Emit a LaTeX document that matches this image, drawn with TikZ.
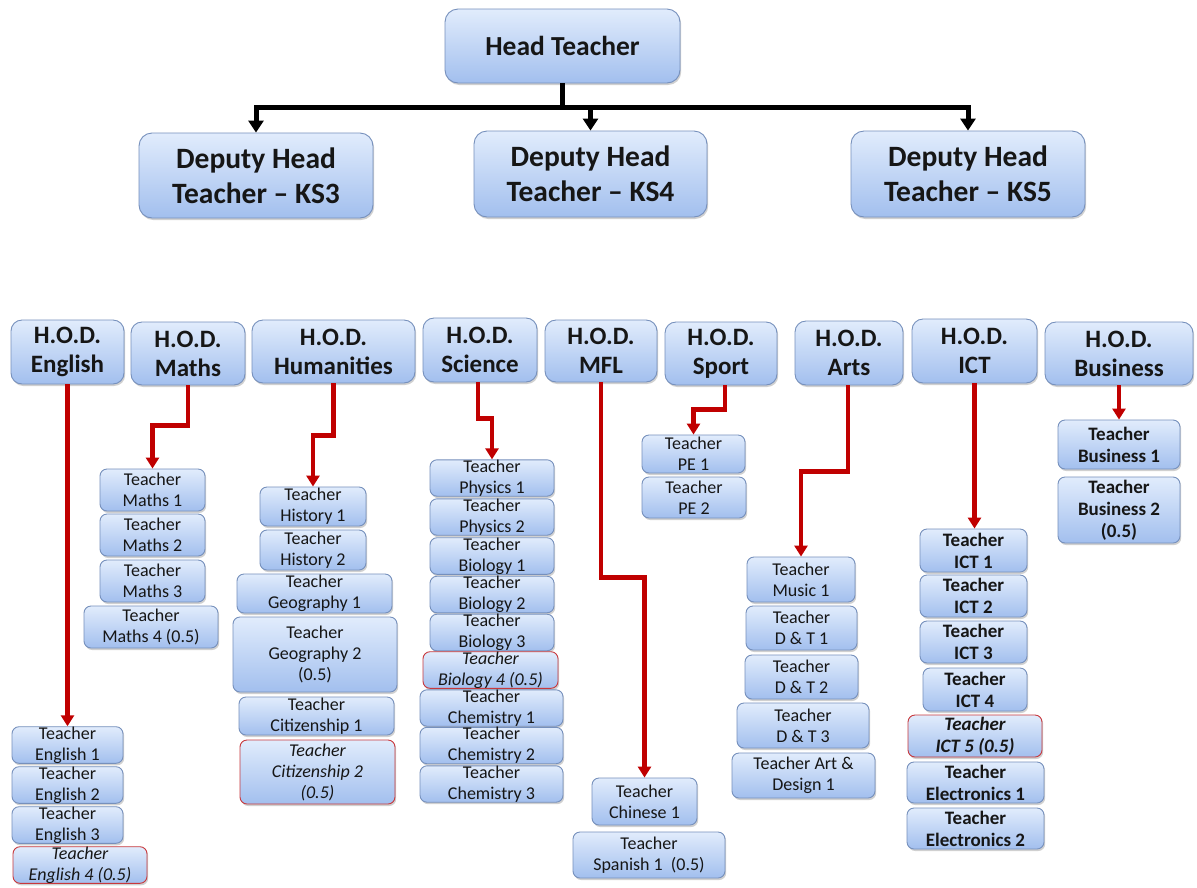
\documentclass[tikz,border=0pt]{standalone}
\usepackage{fontspec}
\setmainfont{Carlito}
\usetikzlibrary{arrows.meta,shadows}

\definecolor{boxtop}{RGB}{225,236,252}
\definecolor{boxbot}{RGB}{162,191,238}
\definecolor{boxline}{RGB}{118,144,188}
\definecolor{partline}{RGB}{200,56,60}
\definecolor{linkred}{RGB}{192,0,0}
\definecolor{inkc}{RGB}{22,22,22}

\tikzset{
  card/.style={draw=boxline, line width=0.9pt, top color=boxtop, bottom color=boxbot,
    rounded corners=7pt, inner sep=0pt, align=center, text=inkc,
    drop shadow={shadow xshift=1.2pt, shadow yshift=-2pt, opacity=0.3, fill=black!60}},
  headcard/.style={card, rounded corners=13pt, font=\fontsize{27.5}{34}\selectfont\bfseries},
  depcard/.style={card, rounded corners=13pt, font=\fontsize{29.5}{35}\selectfont\bfseries},
  hodcard/.style={card, rounded corners=11pt, font=\fontsize{25}{29}\selectfont\bfseries},
  tcard/.style={card, font=\fontsize{18}{21}\selectfont},
  tbold/.style={card, font=\fontsize{19}{22}\selectfont\bfseries},
  part/.style={draw=partline, font=\fontsize{18}{21}\selectfont\itshape},
  boss/.style={-{Triangle[length=12pt,width=15pt]}, line width=5pt, black},
  link/.style={-{Triangle[length=11pt,width=13pt]}, line width=4.5pt, linkred},
}

% \placebox{name}{x1}{y1}{x2}{y2}{style}{text}: box spanning the given corners
\newcommand\placebox[7]{%
  \node[#6, minimum width={(#4)-(#2)}, minimum height={(#5)-(#3)}]
    (#1) at ({((#2)+(#4))/2},{((#3)+(#5))/2}) {#7};}

\begin{document}
\begin{tikzpicture}[x=1pt,y=-1pt]
\useasboundingbox[fill=white] (0,0) rectangle (1197,887);

% senior leadership
\placebox{head}{445}{9}{680}{83}{headcard}{Head Teacher}
\placebox{d3}{139}{133}{373}{218}{depcard}{Deputy Head\\Teacher – KS3}
\placebox{d4}{474}{131}{707}{217}{depcard}{Deputy Head\\Teacher – KS4}
\placebox{d5}{851}{131}{1085}{217}{depcard}{Deputy Head\\Teacher – KS5}

% heads of department
\placebox{hEn}{11}{320}{124}{384}{hodcard}{H.O.D.\\English}
\placebox{hMa}{131}{322}{245}{385}{hodcard}{H.O.D.\\Maths}
\placebox{hHu}{252}{320}{415}{383}{hodcard}{H.O.D.\\Humanities}
\placebox{hSc}{423}{318}{537}{382}{hodcard}{H.O.D.\\Science}
\placebox{hMf}{545}{320}{657}{382}{hodcard}{H.O.D.\\MFL}
\placebox{hSp}{665}{322}{777}{385}{hodcard}{H.O.D.\\Sport}
\placebox{hAr}{795}{321}{903}{385}{hodcard}{H.O.D.\\Arts}
\placebox{hIc}{912}{319}{1037}{383}{hodcard}{H.O.D.\\ICT}
\placebox{hBu}{1045}{322}{1193}{385}{hodcard}{H.O.D.\\Business}

% English
\placebox{en1}{12}{727}{123}{763}{tcard}{Teacher\\English 1}
\placebox{en2}{12}{767}{123}{803}{tcard}{Teacher\\English 2}
\placebox{en3}{12}{807}{123}{843}{tcard}{Teacher\\English 3}
\placebox{en4}{13}{847}{147}{883}{tcard,part}{Teacher\\English 4 (0.5)}

% Maths
\placebox{ma1}{100}{469}{205}{511}{tcard}{Teacher\\Maths 1}
\placebox{ma2}{100}{514}{205}{556}{tcard}{Teacher\\Maths 2}
\placebox{ma3}{100}{560}{205}{602}{tcard}{Teacher\\Maths 3}
\placebox{ma4}{84}{606}{218}{648}{tcard}{Teacher\\Maths 4 (0.5)}

% Humanities
\placebox{hi1}{260}{487}{366}{526}{tcard}{Teacher\\History 1}
\placebox{hi2}{260}{530}{366}{570}{tcard}{Teacher\\History 2}
\placebox{ge1}{237}{574}{392}{613}{tcard}{Teacher\\Geography 1}
\placebox{ge2}{233}{617}{397}{692}{tcard}{Teacher\\Geography 2\\(0.5)}
\placebox{ci1}{239}{697}{394}{735}{tcard}{Teacher\\Citizenship 1}
\placebox{ci2}{240}{740}{395}{804}{tcard,part}{Teacher\\Citizenship 2\\(0.5)}

% Science
\placebox{ph1}{430}{461}{554}{495}{tcard}{Teacher\\Physics 1}
\placebox{ph2}{430}{499}{554}{535}{tcard}{Teacher\\Physics 2}
\placebox{bi1}{430}{539}{554}{573}{tcard}{Teacher\\Biology 1}
\placebox{bi2}{430}{577}{554}{612}{tcard}{Teacher\\Biology 2}
\placebox{bi3}{430}{615}{554}{650}{tcard}{Teacher\\Biology 3}
\placebox{bi4}{423}{653}{558}{687}{tcard,part}{Teacher\\Biology 4 (0.5)}
\placebox{cm1}{420}{691}{563}{725}{tcard}{Teacher\\Chemistry 1}
\placebox{cm2}{420}{728}{563}{763}{tcard}{Teacher\\Chemistry 2}
\placebox{cm3}{420}{766}{563}{802}{tcard}{Teacher\\Chemistry 3}

% MFL
\placebox{cn1}{592}{778}{697}{825}{tcard}{Teacher\\Chinese 1}
\placebox{sp1}{573}{832}{725}{878}{tcard}{Teacher\\Spanish 1\ \ (0.5)}

% Sport
\placebox{pe1}{642}{435}{745}{473}{tcard}{Teacher\\PE 1}
\placebox{pe2}{642}{477}{746}{518}{tcard}{Teacher\\PE 2}

% Arts
\placebox{mu1}{747}{557}{855}{602}{tcard}{Teacher\\Music 1}
\placebox{dt1}{746}{606}{857}{650}{tcard}{Teacher\\D \& T 1}
\placebox{dt2}{745}{655}{858}{699}{tcard}{Teacher\\D \& T 2}
\placebox{dt3}{737}{703}{869}{748}{tcard}{Teacher\\D \& T 3}
\placebox{ad1}{732}{753}{875}{798}{tcard}{Teacher Art \&\\Design 1}

% ICT
\placebox{ic1}{920}{529}{1027}{572}{tbold}{Teacher\\ICT 1}
\placebox{ic2}{920}{575}{1027}{617}{tbold}{Teacher\\ICT 2}
\placebox{ic3}{920}{621}{1027}{663}{tbold}{Teacher\\ICT 3}
\placebox{ic4}{923}{668}{1027}{711}{tbold}{Teacher\\ICT 4}
\placebox{ic5}{908}{715}{1042}{757}{tbold,part,font=\fontsize{19}{22}\selectfont\bfseries\itshape}{Teacher\\ICT 5 (0.5)}
\placebox{el1}{907}{762}{1044}{803}{tbold}{Teacher\\Electronics 1}
\placebox{el2}{907}{808}{1044}{849}{tbold}{Teacher\\Electronics 2}

% Business
\placebox{bu1}{1058}{420}{1180}{469}{tbold}{Teacher\\Business 1}
\placebox{bu2}{1058}{477}{1180}{543}{tbold}{Teacher\\Business 2\\(0.5)}

% head teacher to deputies
\draw[line width=5pt] (head.south) -- ++(0,24) coordinate (hub);
\draw[boss] (hub) -| (d3.north);
\draw[boss] (hub) -| (d4.north);
\draw[boss] (hub) -| (d5.north);

% heads of department to their teachers
\draw[link] (hEn.south) -- (hEn.south |- en1.north);
\draw[link] (hMa.south) -- ++(0,40) -| (ma1.north);
\draw[link] (hHu.south) -- ++(0,52) -| (hi1.north);
\draw[link] ([xshift=-2pt]hSc.south) -- ++(0,36) -| (ph1.north);
\draw[link] (hMf.south) -- ++(0,195) -| (cn1.north);
\draw[link] ([xshift=4pt]hSp.south) -- ++(0,24) -| (pe1.north);
\draw[link] ([xshift=-1pt]hAr.south) -- ++(0,86) -| (mu1.north);
\draw[link] (hIc.south) -- (hIc.south |- ic1.north);
\draw[link] (hBu.south) -- (hBu.south |- bu1.north);
\end{tikzpicture}
\end{document}
